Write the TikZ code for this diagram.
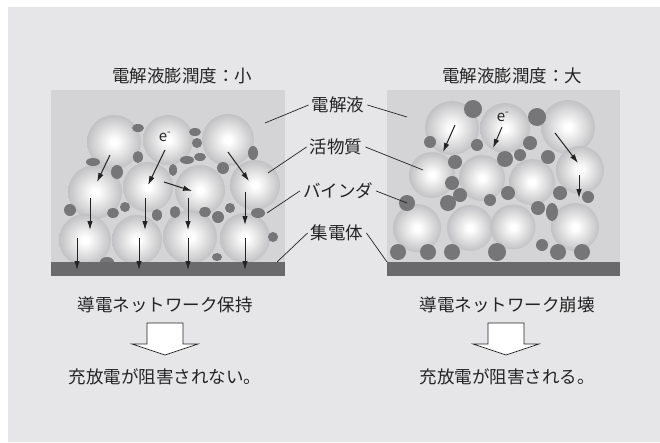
\documentclass[tikz,border=0pt]{standalone}
\usepackage{fontspec}
\newfontfamily\jp{Noto Sans CJK JP}
\usetikzlibrary{arrows.meta}

\definecolor{bggray}{RGB}{230,230,232}
\definecolor{cellgray}{RGB}{212,212,214}
\definecolor{bargray}{RGB}{106,106,108}
\definecolor{bindgray}{RGB}{118,118,120}
\definecolor{sphmid}{RGB}{196,196,198}
\definecolor{sphrim}{RGB}{160,160,162}
\definecolor{sphedge}{RGB}{140,140,142}
\definecolor{ink}{RGB}{35,35,35}

% active material particle: white centre, grey rim
\pgfdeclareradialshading{activeball}{\pgfpoint{0bp}{0bp}}{color(0bp)=(white); color(3bp)=(white); color(24bp)=(sphmid); color(44bp)=(sphrim); color(50bp)=(sphedge)}

\begin{document}
\begin{tikzpicture}[x=1pt,y=-1pt,
  ball/.style = {shading=activeball},
  binder/.style = {fill=bindgray},
  eflow/.style = {-{Latex[length=9pt,width=5.5pt]}, line width=1pt, ink},
  leader/.style = {line width=0.7pt, ink},
  lbl/.style = {font=\jp\fontsize{17.5}{20}\selectfont, text=ink, inner sep=3pt},
  elec/.style = {font=\jp\fontsize{15}{16}\selectfont, text=ink, inner sep=0pt}]
\useasboundingbox (0,0) rectangle (660,442);
\fill[bggray] (8,7) rectangle (660,442);

% electrode cells
\fill[cellgray] (51,90) rectangle (285,276);
\fill[cellgray] (387,90) rectangle (620,276);

% low swelling: packed particles
\foreach \x/\y/\r in {114/142/27, 168/140/25, 228/140/26,
                      95/192/27, 148/187/25, 200/190/25, 255/185/25,
                      85/240/26, 137/240/25, 190/237/27, 245/238/25}
  \shade[ball] (\x,\y) circle (\r);
\foreach \x/\y/\rx/\ry in {138/128/6/4, 195/132/6/4, 197/143/5/5, 93/162/7/4,
                         117/172/6/7, 138/157/5/6, 173/170/4/6, 187/160/7/4,
                         200/157/6/4, 223/168/6/6, 253/153/5/7, 70/210/6/6,
                         113/213/6/5, 125/207/5/5, 157/215/5/6, 175/212/5/6,
                         205/212/6/5, 218/217/6/6, 230/208/5/5, 258/213/7/5,
                         273/237/5/5, 107/262/7/5, 217/257/5/4}
  \fill[binder] (\x,\y) ellipse [x radius=\rx, y radius=\ry];

% high swelling: particles pushed apart
\foreach \x/\y/\r in {452/128/27, 505/128/25, 568/127/27,
                      432/175/23, 482/178/23, 532/182/23, 580/170/24,
                      417/228/24, 470/228/23, 513/227/22.5, 575/227/24}
  \shade[ball] (\x,\y) circle (\r);
\foreach \x/\y/\r in {473/109/9, 537/117/9, 430/142/6, 477/145/6, 530/143/7,
                      520/155/6, 505/159/8, 548/157/7, 455/162/7, 452/183/7,
                      460/195/7, 448/203/8, 490/200/6, 508/193/7, 560/193/7,
                      588/197/6, 538/208/7, 407/203/8, 542/245/6,
                      398/252/8, 428/252/8, 452/252/8, 497/252/9, 558/252/8, 582/252/8}
  \fill[binder] (\x,\y) circle (\r);
\fill[binder] (552,212) ellipse [x radius=6, y radius=9];

% current collectors
\fill[bargray] (51,262) rectangle (285,276);
\fill[bargray] (387,262) rectangle (620,276);

% electron paths
\node[elec] (eL) at (165,137) {e\textsuperscript{-}};
\node[elec] (eR) at (503,117) {e\textsuperscript{-}};
\draw[eflow] (110,155) -- (97,182);
\draw[eflow] (165,150) -- (148,185);
\draw[eflow] (164,182) -- (192,191);
\draw[eflow] (228,152) -- (249,181);
\foreach \x in {90,145,188}
  \draw[eflow] (\x,198) -- (\x,230);
\draw[eflow] (245,192) -- (245,225);
\foreach \x in {77,139,188,245}
  \draw[eflow] (\x,238) -- (\x,270);
\draw[eflow] (455,125) -- (443,152);
\draw[eflow] (502,127) -- (493,148);
\draw[eflow] (555,133) -- (578,163);
\draw[eflow] (579,175) -- (579,198);

% titles
\node[lbl] (ttlL) at (182,76) {電解液膨潤度：小};
\node[lbl] (ttlR) at (512,76) {電解液膨潤度：大};

% component labels with leaders to both cells
\node[lbl] (ely) at (338,105) {電解液};
\node[lbl] (act) at (336,147) {活物質};
\node[lbl] (bnd) at (338,191) {バインダ};
\node[lbl] (col) at (337,233) {集電体};
\coordinate (elyL) at (265,123);
\coordinate (elyR) at (407,117);
\coordinate (actL) at (268,173);
\coordinate (actR) at (423,170);
\coordinate (bndL) at (267,213);
\coordinate (bndR) at (407,203);
\coordinate (colL) at (277,262);
\coordinate (colR) at (387,262);
\draw[leader] (ely.west) -- (elyL);
\draw[leader] (ely.east) -- (elyR);
\draw[leader] (act.west) -- (actL);
\draw[leader] (act.east) -- (actR);
\draw[leader] (bnd.west) -- (bndL);
\draw[leader] (bnd.east) -- (bndR);
\draw[leader] (col.west) -- (colL);
\draw[leader] (col.east) -- (colR);

% outcome
\node[lbl] (netL) at (165,305) {導電ネットワーク保持};
\node[lbl] (netR) at (507,305) {導電ネットワーク崩壊};
\foreach \c in {165,506}
  \draw[ink, line width=0.7pt, fill=white] (\c-18,323) -- (\c+18,323) -- (\c+18,344)
    -- (\c+33,344) -- (\c,355) -- (\c-33,344) -- (\c-18,344) -- cycle;
\node[lbl] (resL) at (165,377) {充放電が阻害されない。};
\node[lbl] (resR) at (507,377) {充放電が阻害される。};
\end{tikzpicture}
\end{document}
